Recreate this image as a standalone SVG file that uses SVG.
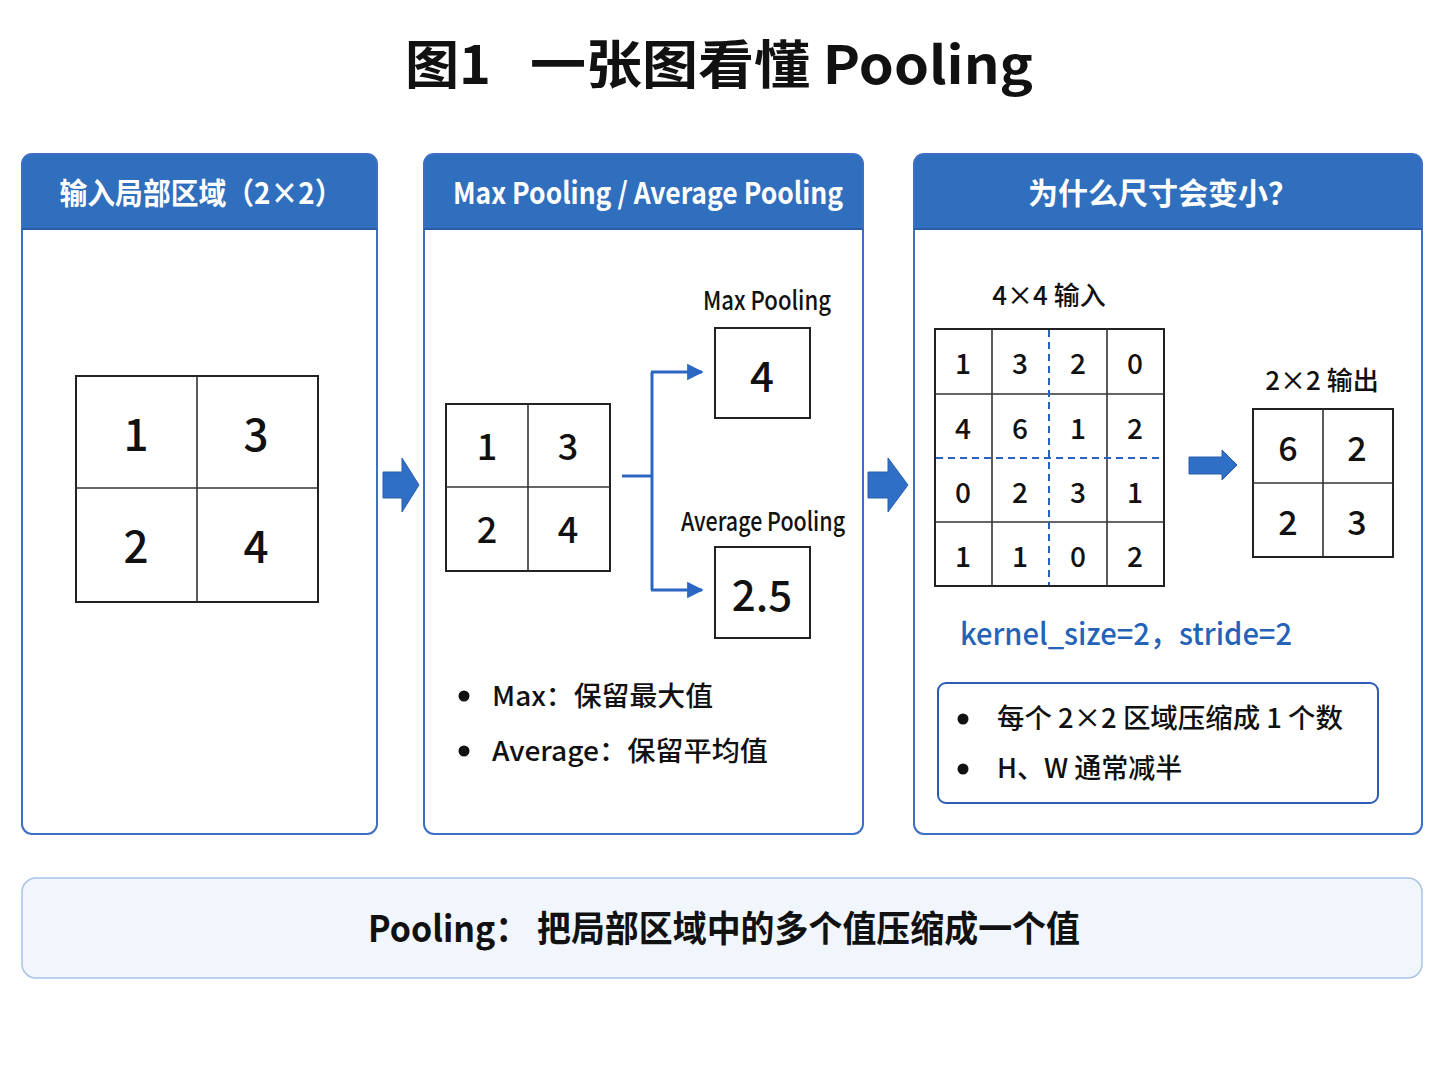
<svg xmlns="http://www.w3.org/2000/svg" width="1448" height="1086" viewBox="0 0 1448 1086">
<style>
  text { font-family: "Noto Sans CJK SC", "Noto Sans", sans-serif; fill: #111; }
  .title { font-size: 52px; font-weight: 700; }
  .hdr { font-size: 30px; font-weight: 700; fill: #fff; }
  .panel { fill: none; stroke: #3d6fc6; stroke-width: 2; }
  .hbar { fill: #2f6fbd; }
  .cell { fill: #fff; stroke: #222; stroke-width: 2; }
  .gl { stroke: #333; stroke-width: 1.6; fill: none; }
  .dash { stroke: #2a62c0; stroke-width: 2; stroke-dasharray: 7 5; fill: none; }
  .num { font-weight: 500; text-anchor: middle; dominant-baseline: central; }
  .lbl { font-size: 26px; font-weight: 500; text-anchor: middle; }
  .bul { font-size: 27px; font-weight: 500; }
  .conn { stroke: #2a66c2; stroke-width: 3; fill: none; }
  .blk { fill: #2f6fc6; stroke: #2a5fb0; stroke-width: 1; }
</style>
<defs>
  <marker id="ah" viewBox="0 0 10 10" refX="9" refY="5" markerWidth="5.5" markerHeight="5.5" orient="auto" markerUnits="strokeWidth">
    <path d="M0,0 L10,5 L0,10 z" fill="#2a66c2"/>
  </marker>
</defs>
<rect width="1448" height="1086" fill="#fff"/>

<text class="title" x="405" y="84" textLength="86" lengthAdjust="spacingAndGlyphs">图1</text>
<text class="title" x="530" y="84" textLength="503" lengthAdjust="spacingAndGlyphs">一张图看懂 Pooling</text>

<g id="panel1">
  <path class="hbar" d="M22,229 V164 Q22,154 32,154 H367 Q377,154 377,164 V229 Z"/>
  <rect class="panel" x="22" y="154" width="355" height="680" rx="10"/>
  <line x1="22" y1="229" x2="377" y2="229" stroke="#2a5aa8" stroke-width="2"/>
  <text class="hdr" x="201" y="204" text-anchor="middle" textLength="283" lengthAdjust="spacingAndGlyphs">输入局部区域（2×2）</text>
  <rect class="cell" x="76" y="376" width="242" height="226"/>
  <line class="gl" x1="197" y1="376" x2="197" y2="602"/>
  <line class="gl" x1="76" y1="488" x2="318" y2="488"/>
  <g font-size="44">
    <text class="num" x="136" y="432">1</text>
    <text class="num" x="256" y="432">3</text>
    <text class="num" x="136" y="544">2</text>
    <text class="num" x="256" y="544">4</text>
  </g>
</g>

<g id="panel2">
  <path class="hbar" d="M424,229 V164 Q424,154 434,154 H853 Q863,154 863,164 V229 Z"/>
  <rect class="panel" x="424" y="154" width="439" height="680" rx="10"/>
  <line x1="424" y1="229" x2="863" y2="229" stroke="#2a5aa8" stroke-width="2"/>
  <text class="hdr" x="648" y="204" text-anchor="middle" textLength="390" lengthAdjust="spacingAndGlyphs">Max Pooling / Average Pooling</text>
  <rect class="cell" x="446" y="404" width="164" height="167"/>
  <line class="gl" x1="528" y1="404" x2="528" y2="571"/>
  <line class="gl" x1="446" y1="487" x2="610" y2="487"/>
  <g font-size="36">
    <text class="num" x="487" y="444">1</text>
    <text class="num" x="568" y="444">3</text>
    <text class="num" x="487" y="527">2</text>
    <text class="num" x="568" y="527">4</text>
  </g>
  <text class="lbl" x="767" y="310" textLength="128" lengthAdjust="spacingAndGlyphs">Max Pooling</text>
  <rect class="cell" x="715" y="328" width="95" height="90"/>
  <text class="num" x="762" y="373" font-size="42">4</text>
  <text class="lbl" x="763" y="531" textLength="164" lengthAdjust="spacingAndGlyphs">Average Pooling</text>
  <rect class="cell" x="715" y="547" width="95" height="91"/>
  <text class="num" x="762" y="592" font-size="42">2.5</text>
  <circle cx="464" cy="696" r="5.5" fill="#111"/>
  <text class="bul" x="492" y="706" textLength="221" lengthAdjust="spacingAndGlyphs">Max：保留最大值</text>
  <circle cx="464" cy="751" r="5.5" fill="#111"/>
  <text class="bul" x="492" y="761" textLength="276" lengthAdjust="spacingAndGlyphs">Average：保留平均值</text>
</g>

<g id="panel3">
  <path class="hbar" d="M914,229 V164 Q914,154 924,154 H1412 Q1422,154 1422,164 V229 Z"/>
  <rect class="panel" x="914" y="154" width="508" height="680" rx="10"/>
  <line x1="914" y1="229" x2="1422" y2="229" stroke="#2a5aa8" stroke-width="2"/>
  <text class="hdr" x="1163" y="204" text-anchor="middle">为什么尺寸会变小？</text>
  <text class="lbl" x="1049" y="305" font-size="28">4×4 输入</text>
  <rect class="cell" x="935" y="329" width="229" height="257"/>
  <line class="gl" x1="992" y1="329" x2="992" y2="586"/>
  <line class="gl" x1="1107" y1="329" x2="1107" y2="586"/>
  <line class="gl" x1="935" y1="394" x2="1164" y2="394"/>
  <line class="gl" x1="935" y1="522" x2="1164" y2="522"/>
  <line class="dash" x1="1049" y1="330" x2="1049" y2="585"/>
  <line class="dash" x1="936" y1="458" x2="1163" y2="458"/>
  <g font-size="28">
    <text class="num" x="963" y="362">1</text><text class="num" x="1020" y="362">3</text><text class="num" x="1078" y="362">2</text><text class="num" x="1135" y="362">0</text>
    <text class="num" x="963" y="427">4</text><text class="num" x="1020" y="427">6</text><text class="num" x="1078" y="427">1</text><text class="num" x="1135" y="427">2</text>
    <text class="num" x="963" y="491">0</text><text class="num" x="1020" y="491">2</text><text class="num" x="1078" y="491">3</text><text class="num" x="1135" y="491">1</text>
    <text class="num" x="963" y="555">1</text><text class="num" x="1020" y="555">1</text><text class="num" x="1078" y="555">0</text><text class="num" x="1135" y="555">2</text>
  </g>
  <text class="lbl" x="1322" y="390" font-size="28">2×2 输出</text>
  <rect class="cell" x="1253" y="409" width="140" height="148"/>
  <line class="gl" x1="1323" y1="409" x2="1323" y2="557"/>
  <line class="gl" x1="1253" y1="483" x2="1393" y2="483"/>
  <g font-size="34">
    <text class="num" x="1288" y="446">6</text>
    <text class="num" x="1357" y="446">2</text>
    <text class="num" x="1288" y="520">2</text>
    <text class="num" x="1357" y="520">3</text>
  </g>
  <text x="960" y="645" font-size="30" font-weight="500" style="fill:#2563b8" textLength="332" lengthAdjust="spacingAndGlyphs">kernel_size=2，stride=2</text>
  <rect x="938" y="683" width="440" height="120" rx="8" fill="#fff" stroke="#2a5cb8" stroke-width="2"/>
  <circle cx="963" cy="719" r="5.5" fill="#111"/>
  <text class="bul" x="997" y="728" font-size="26" textLength="346" lengthAdjust="spacingAndGlyphs">每个 2×2 区域压缩成 1 个数</text>
  <circle cx="963" cy="769" r="5.5" fill="#111"/>
  <text class="bul" x="997" y="778" font-size="26">H、W 通常减半</text>
</g>

<g id="summary">
  <rect x="22" y="878" width="1400" height="100" rx="14" fill="#f1f6fd" stroke="#a9c2e6" stroke-width="1.5"/>
  <text x="724" y="942" text-anchor="middle" font-size="36" font-weight="700" textLength="712" lengthAdjust="spacingAndGlyphs">Pooling： 把局部区域中的多个值压缩成一个值</text>
</g>

<g id="connectors">
  <path class="blk" d="M383,472 H402 V458 L419,485 L402,512 V498 H383 Z"/>
  <path class="blk" d="M868,472 H888 V458 L908,485 L888,512 V498 H868 Z"/>
  <path class="blk" d="M1189,457 H1222 V450 L1237,465 L1222,480 V474 H1189 Z"/>
  <path class="conn" d="M622,476 H652"/>
  <path class="conn" d="M652,372 V590"/>
  <path class="conn" d="M651,372 H702" marker-end="url(#ah)"/>
  <path class="conn" d="M651,590 H702" marker-end="url(#ah)"/>
</g>
</svg>
